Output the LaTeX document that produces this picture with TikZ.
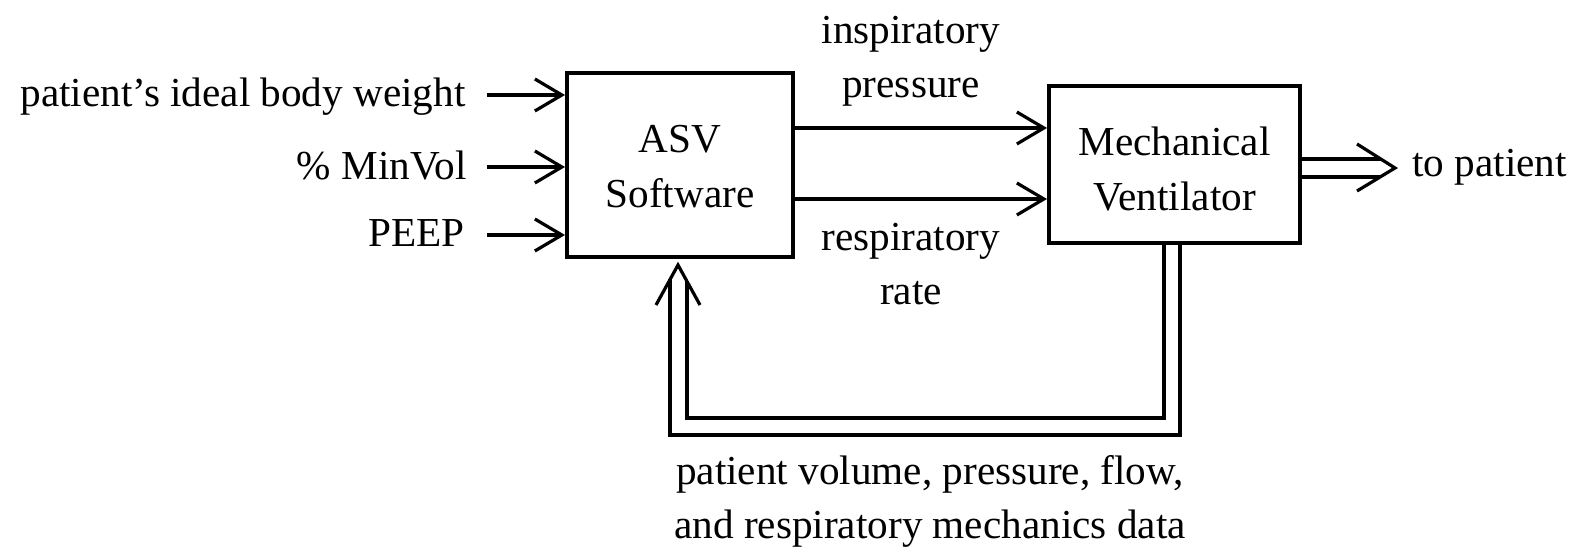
\documentclass[tikz,border=0pt]{standalone}
\usepackage{fontspec}
\setmainfont{Liberation Serif}
\usetikzlibrary{arrows.meta,calc}
\begin{document}
\begin{tikzpicture}[x=0.5pt,y=-0.5pt,
  every node/.style={font=\fontsize{20.6}{27.5}\selectfont, inner sep=0pt},
  block/.style={draw, line width=2pt},
  blocktext/.style={align=center},
  link/.style={line width=1.6pt, -{Straight Barb[length=13.5pt,width=16pt]}},
  pipe/.style={line width=1.6pt, line join=miter},
  lbl/.style={anchor=base}]
\useasboundingbox (0,0) rectangle (1576,560);

% the two blocks and their titles
\node[block, minimum width=113pt, minimum height=92pt] (asv) at (680,165) {};
\node[blocktext] (asvtext) at ($(asv.center)+(0,2)$) {ASV\\Software};
\node[block, minimum width=125.5pt, minimum height=78.5pt] (mv) at (1174.5,164.5) {};
\node[blocktext] (mvtext) at ($(mv.center)+(0,4.5)$) {Mechanical\\Ventilator};

% operator settings
\node[lbl, anchor=base east] (ibw) at (466,107) {patient's ideal body weight};
\node[lbl, anchor=base east] (mvol) at (467,180) {\% MinVol};
\node[lbl, anchor=base east] (peep) at (465,247) {PEEP};
\coordinate (i1) at (487,95);
\coordinate (i2) at (487,167);
\coordinate (i3) at (487,235);
\draw[link] (i1) -- (i1 -| asv.west);
\draw[link] (i2) -- (i2 -| asv.west);
\draw[link] (i3) -- (i3 -| asv.west);

% controller outputs
\coordinate (o1) at ($(asv.east)+(0,-37)$);
\coordinate (o2) at ($(asv.east)+(0,34)$);
\draw[link] (o1) -- (o1 -| mv.west);
\draw[link] (o2) -- (o2 -| mv.west);
\node[lbl] (ip1) at (911,44) {inspiratory};
\node[lbl] (ip2) at (911,98) {pressure};
\node[lbl] (rr1) at (911,251) {respiratory};
\node[lbl] (rr2) at (911,305) {rate};

% double arrow to the patient
\coordinate (tip) at ($(mv.east)+(93,3.5)$);
\draw[pipe] ($(mv.east)+(0,-5.5)$) -- ++(79,0);
\draw[pipe] ($(mv.east)+(0,12.5)$) -- ++(78,0);
\draw[pipe] ($(tip)+(-38,-24)$) -- (tip) -- ($(tip)+(-38,23)$);
\node[lbl, anchor=base west] (tp) at (1412,177) {to patient};

% double feedback path back to the controller
\coordinate (fbtip) at ($(asv.south)+(-2,6)$);
\draw[pipe] ($(mv.south)+(5.5,0)$) |- ($(fbtip)+(-8,170)$) -- ($(fbtip)+(-8,14.5)$);
\draw[pipe] ($(mv.south)+(-10.5,0)$) |- ($(fbtip)+(9,153)$) -- ($(fbtip)+(9,16)$);
\draw[pipe] ($(fbtip)+(-22,40)$) -- (fbtip) -- ($(fbtip)+(22,40)$);
\node[lbl] (fb1) at (930,485) {patient volume, pressure, flow,};
\node[lbl] (fb2) at (930,539) {and respiratory mechanics data};
\end{tikzpicture}
\end{document}
